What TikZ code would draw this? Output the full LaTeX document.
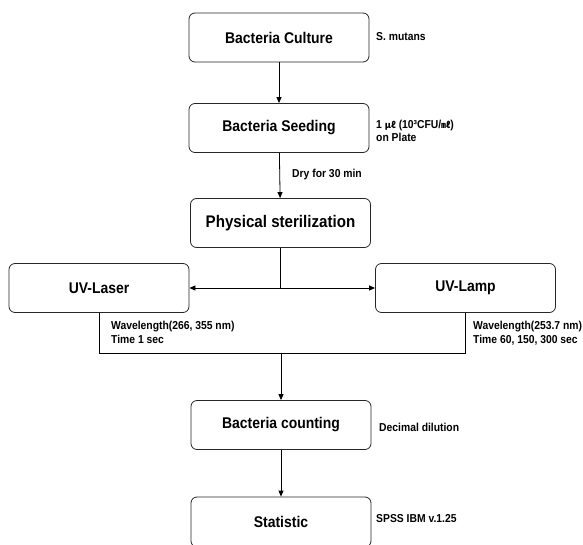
\documentclass[tikz,border=0pt]{standalone}
\usepackage{fontspec}
\setmainfont{Liberation Sans}[FakeStretch=0.9]
\newfontfamily\cjk{Noto Sans CJK KR}
\usetikzlibrary{arrows.meta,calc}
\tikzset{
  box/.style={draw=black!85, line width=0.8pt, rounded corners=6pt, minimum width=180pt, minimum height=49pt, inner sep=0pt, font=\fontsize{15.5}{18}\selectfont\bfseries},
  lbl/.style={anchor=west, inner sep=0pt, align=left, font=\fontsize{11.5}{14}\selectfont\bfseries},
  arr/.style={line width=0.8pt, -{Triangle[length=6pt,width=5pt]}},
  ln/.style={line width=0.8pt}
}
\begin{document}
\begin{tikzpicture}[x=1pt,y=-1pt]
\useasboundingbox (0,0) rectangle (583,545);
\node[box] (culture) at (279,37.5) {Bacteria Culture};
\node[box] (seed) at (279,128) {Bacteria Seeding};
\node[box, font=\fontsize{16.8}{19}\selectfont\bfseries] (phys) at (280.5,223) {Physical sterilization};
\node[box] (laser) at (99,288) {UV-Laser};
\node[box] (lamp) at (465.5,288) {UV-Lamp};
\node[box] (count) at (281,425) {Bacteria counting};
\node[box, minimum height=50pt] (stat) at (281,522) {Statistic};

\node[lbl] (l1) at (376,37) {S. mutans};
\node[lbl, font=\fontsize{11.5}{12.5}\selectfont\bfseries] (l2) at (376,131) {1 {\cjk\fontsize{9}{10}\selectfont µℓ} (10³CFU/{\cjk\fontsize{9}{10}\selectfont ㎖})\\on Plate};
\node[lbl] (l3) at (292,175) {Dry for 30 min};
\node[lbl, font=\fontsize{11.5}{14}\selectfont\bfseries] (l4) at (111,332) {Wavelength(266, 355 nm)\\Time 1 sec};
\node[lbl, font=\fontsize{11.5}{14}\selectfont\bfseries] (l5) at (473,333) {Wavelength(253.7 nm)\\Time 60, 150, 300 sec};
\node[lbl] (l6) at (379,427) {Decimal dilution};
\node[lbl] (l7) at (376,519) {SPSS IBM v.1.25};

\draw[arr] (culture) -- (seed);
\draw[arr] (seed) -- (phys);
\coordinate (m) at (phys.south |- laser.east);
\draw[ln] (phys.south) -- (m);
\draw[arr] (m) -- (laser.east);
\draw[arr] (m) -- (lamp.west);
\coordinate (j) at (count.north |- 0,353);
\draw[ln] (laser.south) -- (laser.south |- j) -- (lamp.south |- j) -- (lamp.south);
\draw[arr] (j) -- (count);
\draw[arr] (count) -- (stat);
\end{tikzpicture}
\end{document}
